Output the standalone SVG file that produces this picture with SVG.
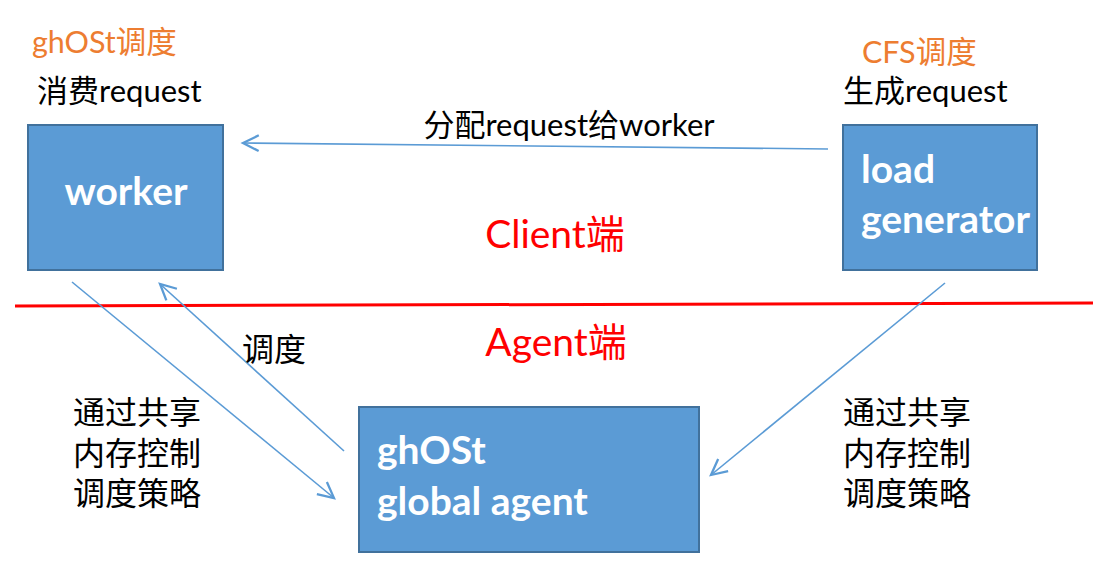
<svg xmlns="http://www.w3.org/2000/svg" width="1109" height="563" viewBox="0 0 1109 563">
<style>
.box{fill:#5B9BD5;stroke:#41719C;stroke-width:2}
.bt{font-family:Lato,"Noto Sans CJK SC",sans-serif;font-weight:bold;font-size:39px;fill:#fff}
.t{font-family:Lato,"Noto Sans CJK SC",sans-serif;font-size:31px;fill:#000}
.o{font-family:Lato,"Noto Sans CJK SC",sans-serif;font-size:30.5px;fill:#ED7D31}
.r{font-family:Lato,"Noto Sans CJK SC",sans-serif;font-size:39px;fill:#FF0000}
.c{font-family:"Noto Sans CJK SC",sans-serif;font-size:32px;fill:#000}
.ar{stroke:#5B9BD5;stroke-width:1.6;fill:none;marker-end:url(#ah)}
</style>
<defs>
<marker id="ah" markerUnits="userSpaceOnUse" markerWidth="20" markerHeight="20" viewBox="-12 -7 14 14" refX="0" refY="0" orient="auto">
<path d="M-11,-5.5 L0,0 L-11,5.5" fill="none" stroke="#5B9BD5" stroke-width="1.6"/>
</marker>
</defs>
<rect width="1109" height="563" fill="#fff"/>
<line x1="15" y1="306" x2="1093" y2="303" stroke="#FF0000" stroke-width="3"/>
<g id="connectors">
<line class="ar" x1="828" y1="149" x2="243" y2="143"/>
<line class="ar" x1="72" y1="282" x2="334" y2="498"/>
<line class="ar" x1="344" y1="451" x2="160" y2="284"/>
<line class="ar" x1="945" y1="283" x2="711" y2="475"/>
</g>
<g id="worker">
<rect class="box" x="28" y="125" width="195" height="145"/>
<text class="bt" x="126" y="205" text-anchor="middle">worker</text>
</g>
<g id="loadgen">
<rect class="box" x="843" y="125" width="194" height="145"/>
<text class="bt" x="861" y="183">load</text>
<text class="bt" x="861" y="233">generator</text>
</g>
<g id="agent">
<rect class="box" x="359" y="407" width="340" height="145"/>
<text class="bt" x="377" y="464">ghOSt</text>
<text class="bt" x="377" y="515">global agent</text>
</g>
<g id="labels">
<text class="o" x="32" y="53">ghOSt调度</text>
<text class="t" x="37" y="102">消费request</text>
<text class="o" x="862" y="63">CFS调度</text>
<text class="t" x="843" y="102">生成request</text>
<text class="t" x="569" y="136" text-anchor="middle">分配request给worker</text>
<text class="r" x="555" y="248" text-anchor="middle">Client端</text>
<text class="r" x="556" y="356" text-anchor="middle">Agent端</text>
<text class="c" x="242" y="361">调度</text>
<text class="c" x="73" y="424">通过共享</text>
<text class="c" x="73" y="465">内存控制</text>
<text class="c" x="73" y="505">调度策略</text>
<text class="c" x="843" y="424">通过共享</text>
<text class="c" x="843" y="465">内存控制</text>
<text class="c" x="843" y="505">调度策略</text>
</g>
</svg>
